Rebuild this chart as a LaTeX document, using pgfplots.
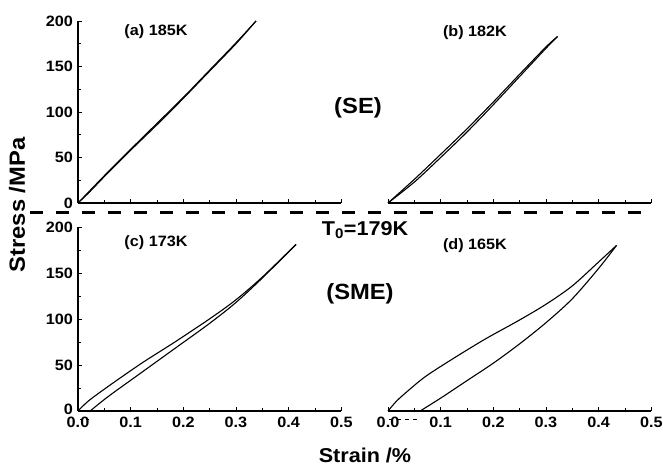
\documentclass[border=0pt]{standalone}
\usepackage{pgfplots}
\pgfplotsset{compat=1.18}
\usepackage{fontspec}
\setmainfont{Liberation Sans}[FakeStretch=1.08]
\pgfplotsset{
  panel/.style={
    scale only axis, width=263.3pt, height=182pt,
    xmin=0, xmax=0.5, ymin=0, ymax=200,
    axis lines=left, axis line style={-, line width=1.1pt},
    xtick={0,0.1,0.2,0.3,0.4,0.5},
    minor xtick={0.05,0.15,0.25,0.35,0.45},
    ytick={0,50,100,150,200},
    minor ytick={25,75,125,175},
    yticklabels={0,50,100,150,200},
    tick align=inside, major tick length=4pt, minor tick length=3pt,
    every tick/.style={line width=0.9pt, black},
    ticklabel style={font=\fontsize{15}{17}\selectfont\bfseries, inner sep=0pt},
    xticklabel style={yshift=-6pt},
    yticklabel style={xshift=-5pt},
    clip=false,
  },
  curve/.style={black, line width=1.1pt, smooth, no marks},
}
\begin{document}
\begin{tikzpicture}
\useasboundingbox (0,0) rectangle (663pt,468pt);
% (a)
\begin{axis}[panel, at={(78pt,265pt)}, anchor=south west, xticklabels={}]
\addplot[curve] coordinates {(0,0) (0.02,11) (0.05,29) (0.1,58) (0.15,86) (0.2,115) (0.25,145) (0.3,175) (0.338,200)};
\addplot[curve] coordinates {(0,0) (0.02,12) (0.05,30) (0.1,59) (0.15,87.5) (0.2,116) (0.25,146) (0.3,176) (0.338,200)};
\end{axis}
% (b)
\begin{axis}[panel, at={(388pt,265pt)}, anchor=south west, xticklabels={}, ytick=\empty, minor ytick={}, y axis line style={draw=none}]
\addplot[curve] coordinates {(0,0) (0.05,23) (0.1,50) (0.15,78) (0.2,108) (0.25,139) (0.3,170) (0.322,183)};
\addplot[curve] coordinates {(0,0) (0.05,26) (0.1,53.5) (0.15,81.5) (0.2,111) (0.25,141.5) (0.3,171.5) (0.322,183)};
\end{axis}
% (c)
\begin{axis}[panel, height=184pt, at={(78pt,57pt)}, anchor=south west, xticklabels={0.0,0.1,0.2,0.3,0.4,0.5}, yticklabels={\raisebox{4pt}{0},50,100,150,200}]
\addplot[curve] coordinates {(0,0) (0.02,11) (0.058,27) (0.121,52) (0.184,75) (0.247,99) (0.298,120) (0.349,145) (0.414,181)};
\addplot[curve] coordinates {(0.023,0) (0.058,16) (0.121,42) (0.184,68) (0.247,94) (0.298,117) (0.349,144) (0.414,181)};
\addplot[black, line width=0.8pt, dash pattern=on 3pt off 3pt] coordinates {(0.004,-9) (0.023,-9)};
\end{axis}
% (d)
\begin{axis}[panel, height=184pt, at={(388pt,57pt)}, anchor=south west, xticklabels={0.0,0.1,0.2,0.3,0.4,0.5}, ytick=\empty, minor ytick={}, y axis line style={draw=none}]
\addplot[curve] coordinates {(0,0) (0.015,10) (0.032,19) (0.07,37) (0.121,56) (0.184,78) (0.247,98) (0.3,116) (0.35,136) (0.4,162) (0.434,180)};
\addplot[curve] coordinates {(0.061,0) (0.1,14) (0.15,33) (0.2,52) (0.25,73) (0.3,96) (0.35,122) (0.4,155) (0.434,180)};
\addplot[black, line width=0.8pt, dash pattern=on 4pt off 4pt] coordinates {(0.002,-9) (0.061,-9)};
\end{axis}
% separator
\draw[line width=3pt, dash pattern=on 13pt off 13pt] (30pt,255pt) -- (652pt,255pt);
% labels
\node[rotate=90, font=\fontsize{22}{24}\selectfont\bfseries] at (17pt,263pt) {Stress /MPa};
\node[font=\fontsize{20}{22}\selectfont\bfseries] at (365pt,13pt) {Strain /\%};
\node[font=\fontsize{22}{24}\selectfont\bfseries] at (358pt,360pt) {(SE)};
\node[font=\fontsize{22}{24}\selectfont\bfseries] at (360pt,174pt) {(SME)};
\node[font=\fontsize{20}{22}\selectfont\bfseries] at (365pt,238pt) {T\textsubscript{0}=179K};
\node[font=\fontsize{15}{17}\selectfont\bfseries] at (156pt,436pt) {(a) 185K};
\node[font=\fontsize{15}{17}\selectfont\bfseries] at (475pt,435pt) {(b) 182K};
\node[font=\fontsize{15}{17}\selectfont\bfseries] at (156pt,225pt) {(c) 173K};
\node[font=\fontsize{15}{17}\selectfont\bfseries] at (475pt,222pt) {(d) 165K};
\end{tikzpicture}
\end{document}
